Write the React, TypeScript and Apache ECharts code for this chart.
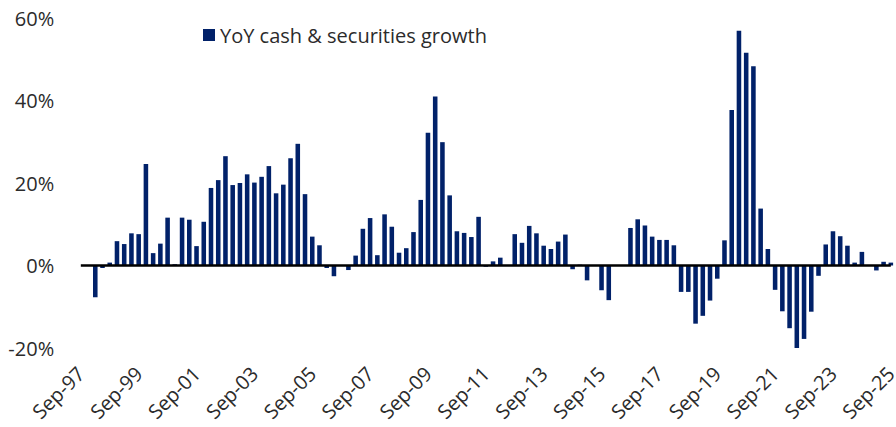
import React, { useEffect, useRef } from "react";
import * as echarts from "echarts";

// Quarterly categories Sep-97 .. Sep-25
const quarterMonths = ["Sep", "Dec", "Mar", "Jun"];
const startYear = 1997;
const categories: string[] = [];
for (let i = 0; i < 113; i++) {
  const m = quarterMonths[i % 4];
  const q = Math.floor(i / 4);
  const yr = m === "Sep" || m === "Dec" ? startYear + q : startYear + q + 1;
  categories.push(`${m}-${String(yr % 100).padStart(2, "0")}`);
}

const seriesName = "YoY cash & securities growth";

// YoY growth, %
const growth: number[] = [
  0, 0, -7.7, -0.6, 0.7, 5.9, 5.2, 7.8, 7.6, 24.6,
  3.0, 5.3, 11.6, 0.3, 11.6, 11.1, 4.7, 10.6, 18.8, 20.7,
  26.5, 19.5, 20.0, 22.1, 20.1, 21.5, 24.1, 17.5, 19.6, 26.0,
  29.5, 17.3, 7.0, 4.9, -0.6, -2.6, 0.1, -1.1, 2.4, 8.9,
  11.5, 2.5, 12.4, 9.4, 3.1, 4.2, 8.1, 15.9, 32.2, 41.0,
  29.9, 17.0, 8.3, 7.9, 6.9, 11.8, -0.3, 1.0, 1.9, 0,
  7.6, 5.5, 9.6, 7.8, 4.8, 4.0, 5.8, 7.5, -0.9, 0.2,
  -3.6, 0, -6.0, -8.4, 0.1, 0, 9.1, 11.2, 9.7, 7.0,
  6.2, 6.2, 4.9, -6.4, -6.4, -14.1, -12.2, -8.5, -3.2, 6.1,
  37.7, 56.9, 51.6, 48.3, 13.8, 4.0, -5.9, -11.1, -15.2, -20.0,
  -17.8, -11.2, -2.5, 5.1, 8.3, 7.1, 4.8, 0.7, 3.3, 0,
  -1.2, 0.9, 0.7,
];

// zero reference line across all categories
const zeroLine: number[] = categories.map(() => 0);

const yTicks = [-20, 0, 20, 40, 60];

export default function App() {
  const ref = useRef<HTMLDivElement>(null);
  useEffect(() => {
    if (!ref.current) return;
    const chart = echarts.init(ref.current, undefined, { renderer: "svg" });
    const font = "'Open Sans', 'Noto Sans', sans-serif";
    chart.setOption({
      animation: false,
      textStyle: { fontFamily: font },
      legend: {
        show: true,
        left: 198,
        top: 20,
        icon: "rect",
        itemWidth: 12,
        itemHeight: 12,
        data: [seriesName],
        textStyle: { fontSize: 20, color: "#2b2b2b", fontFamily: font },
      },
      grid: { left: 77.2, right: 1.3, top: 18, bottom: 79, containLabel: false },
      xAxis: {
        type: "category",
        data: categories,
        boundaryGap: true,
        axisLine: { show: false, onZero: false },
        axisTick: { show: false },
        axisLabel: {
          interval: 7,
          rotate: 45,
          margin: 22,
          fontSize: 20,
          color: "#2b2b2b",
          fontFamily: font,
        },
      },
      yAxis: {
        type: "value",
        min: yTicks[0],
        max: yTicks[yTicks.length - 1],
        interval: 20,
        axisLine: { show: false },
        axisTick: { show: false },
        splitLine: { show: false },
        axisLabel: {
          formatter: "{value}%",
          fontSize: 20,
          margin: 23,
          color: "#2b2b2b",
          fontFamily: font,
        },
      },
      series: [
        {
          name: seriesName,
          type: "bar",
          data: growth,
          barCategoryGap: "37%",
          itemStyle: { color: "#012169" },
          z: 2,
        },
        {
          name: "zero",
          type: "line",
          data: zeroLine,
          symbol: "none",
          showSymbol: false,
          silent: true,
          lineStyle: { color: "#000000", width: 2.6, opacity: 1 },
          z: 10,
        },
      ],
    });
    return () => chart.dispose();
  }, []);
  return (
    <div
      style={{
        position: "fixed",
        left: 0,
        top: 0,
        width: 896,
        height: 427,
        overflow: "hidden",
        background: "#fff",
      }}
    >
      <div ref={ref} style={{ width: 900, height: 427 }} />
    </div>
  );
}
